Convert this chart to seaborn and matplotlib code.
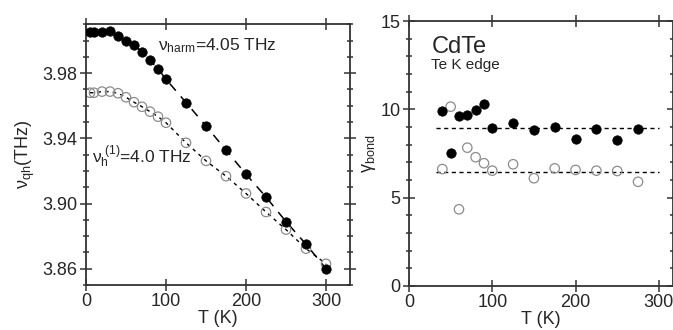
import numpy as np
import pandas as pd
import matplotlib
matplotlib.use("Agg")
import matplotlib.pyplot as plt
from matplotlib.ticker import MultipleLocator
import seaborn as sns

# ---- data: left panel (quasi-harmonic frequency) ----
T_left = [5, 10, 20, 30, 40, 50, 60, 70, 80, 90, 100, 125, 150, 175, 200, 225, 250, 275, 300]
nu_filled = [4.005, 4.005, 4.0055, 4.006, 4.003, 4.000, 3.9974, 3.993, 3.9878, 3.9825, 3.9763,
             3.962, 3.9476, 3.9328, 3.918, 3.904, 3.8889, 3.875, 3.860]
nu_open = [3.968, 3.968, 3.9687, 3.9687, 3.9677, 3.9652, 3.9622, 3.9594, 3.9564, 3.9533, 3.9496,
           3.9373, 3.9262, 3.9168, 3.9062, 3.8948, 3.884, 3.8723, 3.863]

# ---- data: right panel (bond Grüneisen parameter) ----
T_right = [40, 50, 60, 70, 80, 90, 100, 125, 150, 175, 200, 225, 250, 275]
gamma_filled = [9.91, 7.55, 9.64, 9.68, 9.97, 10.32, 8.93, 9.21, 8.83, 8.98, 8.32, 8.89, 8.27, 8.87]
gamma_open = [6.62, 10.15, 4.34, 7.83, 7.29, 6.95, 6.53, 6.89, 6.10, 6.66, 6.57, 6.53, 6.51, 5.90]
gamma_mean_filled = 8.95
gamma_mean_open = 6.45
mean_T_range = [33, 300]

sns.set_style("ticks")
plt.rcParams['font.family'] = ['Liberation Sans', 'DejaVu Sans']
plt.rcParams['mathtext.fontset'] = 'custom'
plt.rcParams['mathtext.rm'] = 'Liberation Sans'
plt.rcParams['mathtext.it'] = 'Liberation Sans:italic'

fig = plt.figure(figsize=(6.73, 3.30), dpi=100)
ax1 = fig.add_axes([86/673, 1-285/330, (350-86)/673, (285-24.3)/330])
ax2 = fig.add_axes([409/673, 1-286/330, (673-409)/673, (286-21)/330])

df_l = pd.DataFrame({"T": T_left, "filled": nu_filled, "open": nu_open})
df_r = pd.DataFrame({"T": T_right, "filled": gamma_filled, "open": gamma_open})

ms = 46
# left panel lines
sns.lineplot(data=df_l, x="T", y="filled", ax=ax1, color="black", lw=1.1,
             zorder=1).lines[-1].set_dashes([6, 5])
sns.lineplot(data=df_l, x="T", y="open", ax=ax1, color="black", lw=1.0,
             zorder=1).lines[-1].set_dashes([2.5, 3])
sns.scatterplot(data=df_l, x="T", y="open", ax=ax1, s=ms, facecolor="none",
                edgecolor="#8c8c8c", linewidth=0.9, zorder=2)
sns.scatterplot(data=df_l, x="T", y="filled", ax=ax1, s=ms, color="black",
                edgecolor="black", linewidth=0.5, zorder=3)

ax1.set_xlim(0, 330)
ax1.set_ylim(3.85, 4.01)
ax1.xaxis.set_major_locator(MultipleLocator(100))
ax1.yaxis.set_minor_locator(MultipleLocator(0.01))
ax1.set_yticks([3.86, 3.90, 3.94, 3.98])
ax1.set_xlabel("T (K)", fontsize=13, labelpad=0)
ax1.set_ylabel(r"$\mathregular{\nu_{qh}}$(THz)", fontsize=13, labelpad=4)
ax1.text(90, 3.994, r"$\mathregular{\nu_{harm}}$=4.05 THz", fontsize=12.5)
ax1.text(8, 3.925, r"$\mathregular{\nu_{h}^{\ (1)}}$=4.0 THz", fontsize=12.5)

# right panel
ax2.plot(mean_T_range, [gamma_mean_filled]*2, color="black", lw=1.0, dashes=[3, 2.5], zorder=1)
ax2.plot(mean_T_range, [gamma_mean_open]*2, color="black", lw=1.0, dashes=[3, 2.5], zorder=1)
sns.scatterplot(data=df_r, x="T", y="open", ax=ax2, s=ms, facecolor="none",
                edgecolor="#8c8c8c", linewidth=0.9, zorder=2)
sns.scatterplot(data=df_r, x="T", y="filled", ax=ax2, s=ms, color="black",
                edgecolor="black", linewidth=0.5, zorder=3)
ax2.set_xlim(0, 317)
ax2.set_ylim(0, 15)
ax2.xaxis.set_major_locator(MultipleLocator(100))
ax2.yaxis.set_major_locator(MultipleLocator(5))
ax2.yaxis.set_minor_locator(MultipleLocator(1))
ax2.set_xlabel("T (K)", fontsize=13, labelpad=0)
ax2.set_ylabel(r"$\mathregular{\gamma_{bond}}$", fontsize=13, labelpad=2)
ax2.text(27, 13.2, "CdTe", fontsize=17)
ax2.text(27, 12.3, "Te K edge", fontsize=11)

for ax in (ax1, ax2):
    for sp in ax.spines.values():
        sp.set_visible(True)
        sp.set_linewidth(1.3)
        sp.set_color("#333333")
    ax.tick_params(which="both", direction="inout", top=True, right=True,
                   labelsize=13, width=1.1, color="#333333")
    ax.tick_params(which="major", length=8, pad=2)
    ax.tick_params(which="minor", length=5)

fig.savefig("out.png", dpi=100)
